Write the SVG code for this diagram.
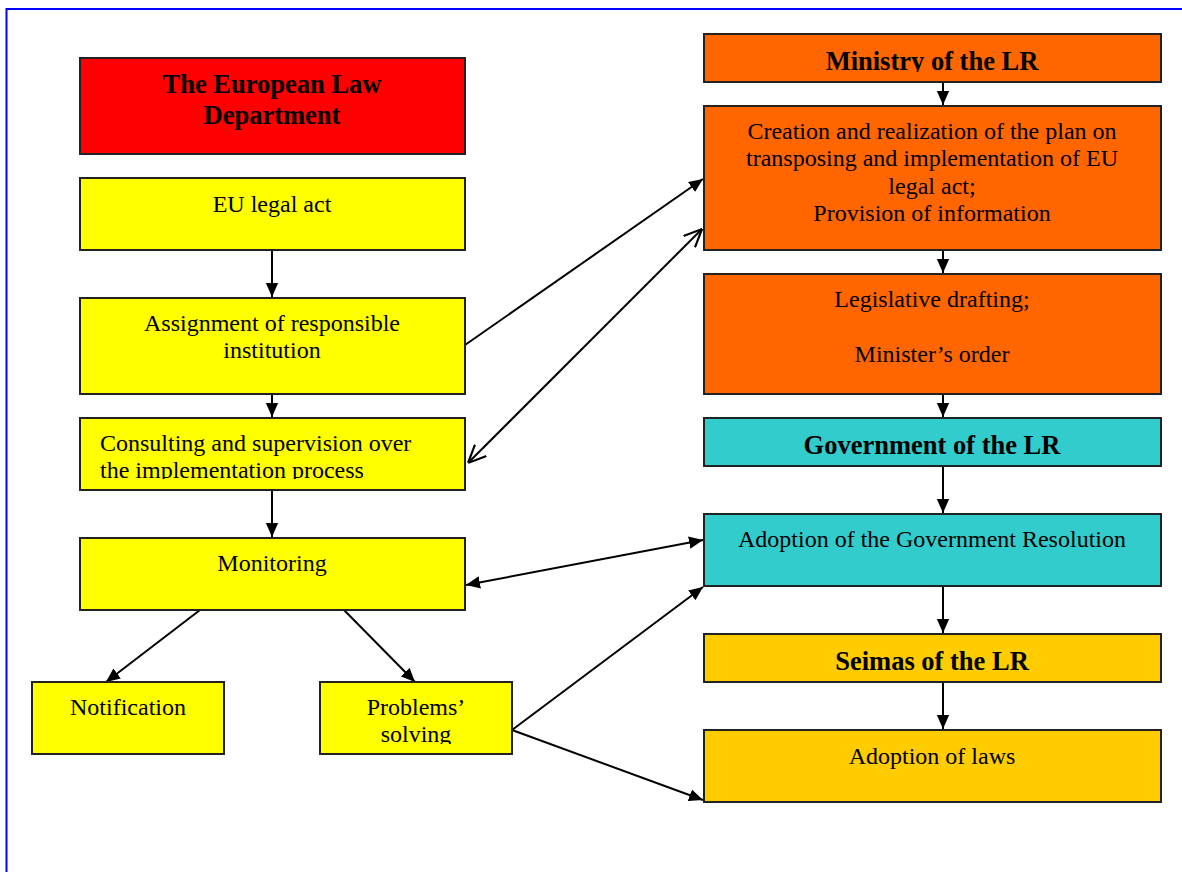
<svg xmlns="http://www.w3.org/2000/svg" width="1182" height="872" viewBox="0 0 1182 872">
<style>
.box{stroke:#222;stroke-width:2}
.y{fill:#ffff00}.r{fill:#ff0000}.o{fill:#ff6600}.c{fill:#33cccc}.g{fill:#ffcc00}
text{font-family:"Liberation Serif","Times New Roman",serif;fill:#000}
.t{font-size:24px;text-anchor:middle}
.b{font-size:26.5px;font-weight:bold;text-anchor:middle}
.l{font-size:24px}
.e{stroke:#000;stroke-width:2;fill:none}
</style>
<defs>
<marker id="af" viewBox="0 0 10 10" refX="10" refY="5" markerWidth="14" markerHeight="14" markerUnits="userSpaceOnUse" orient="auto-start-reverse"><path d="M0,0.6 L10,5 L0,9.4 z" fill="#000"/></marker>
<marker id="ao" viewBox="0 0 10 10" refX="10" refY="5" markerWidth="18" markerHeight="18" markerUnits="userSpaceOnUse" orient="auto-start-reverse"><path d="M0,0.5 L10,5 L0,9.5" fill="none" stroke="#000" stroke-width="1.2"/></marker>
<clipPath id="cCons"><rect x="80" y="418" width="385" height="61"/></clipPath>
<clipPath id="cProb"><rect x="320" y="682" width="192" height="62"/></clipPath>
<clipPath id="cMin"><rect x="704" y="34" width="457" height="38"/></clipPath>
</defs>
<rect x="6.5" y="9" width="1200" height="900" fill="#fff" stroke="#0000ff" stroke-width="2"/>

<g id="connectors">
<line class="e" x1="272" y1="250" x2="272" y2="297" marker-end="url(#af)"/>
<line class="e" x1="272" y1="394" x2="272" y2="417" marker-end="url(#af)"/>
<line class="e" x1="272" y1="490" x2="272" y2="537" marker-end="url(#af)"/>
<line class="e" x1="200" y1="610" x2="106" y2="682" marker-end="url(#af)"/>
<line class="e" x1="344" y1="610" x2="415" y2="682" marker-end="url(#af)"/>
<line class="e" x1="465" y1="345" x2="703" y2="179" marker-end="url(#af)"/>
<line class="e" x1="468" y1="463" x2="702" y2="229" marker-start="url(#ao)" marker-end="url(#ao)"/>
<line class="e" x1="466" y1="585" x2="703" y2="540" marker-start="url(#af)" marker-end="url(#af)"/>
<line class="e" x1="512" y1="730" x2="703" y2="587" marker-end="url(#af)"/>
<line class="e" x1="512" y1="730" x2="703" y2="800" marker-end="url(#af)"/>
<line class="e" x1="943" y1="82" x2="943" y2="105" marker-end="url(#af)"/>
<line class="e" x1="943" y1="250" x2="943" y2="273" marker-end="url(#af)"/>
<line class="e" x1="943" y1="394" x2="943" y2="417" marker-end="url(#af)"/>
<line class="e" x1="943" y1="466" x2="943" y2="513" marker-end="url(#af)"/>
<line class="e" x1="943" y1="586" x2="943" y2="633" marker-end="url(#af)"/>
<line class="e" x1="943" y1="682" x2="943" y2="729" marker-end="url(#af)"/>
</g>

<g id="eld"><rect class="box r" x="80" y="58" width="385" height="96"/>
<text class="b" x="272" y="93">The European Law</text><text class="b" x="272" y="124">Department</text></g>
<g id="eu-act"><rect class="box y" x="80" y="178" width="385" height="72"/>
<text class="t" x="272" y="212">EU legal act</text></g>
<g id="assignment"><rect class="box y" x="80" y="298" width="385" height="96"/>
<text class="t" x="272" y="331">Assignment of responsible</text><text class="t" x="272" y="358">institution</text></g>
<g id="consulting"><rect class="box y" x="80" y="418" width="385" height="72"/>
<g clip-path="url(#cCons)"><text class="l" x="100" y="451">Consulting and supervision over</text><text class="l" x="100" y="478">the implementation process</text></g></g>
<g id="monitoring"><rect class="box y" x="80" y="538" width="385" height="72"/>
<text class="t" x="272" y="571">Monitoring</text></g>
<g id="notification"><rect class="box y" x="32" y="682" width="192" height="72"/>
<text class="t" x="128" y="715">Notification</text></g>
<g id="problems"><rect class="box y" x="320" y="682" width="192" height="72"/>
<g clip-path="url(#cProb)"><text class="t" x="416" y="715">Problems’</text><text class="t" x="416" y="742">solving</text></g></g>

<g id="ministry"><rect class="box o" x="704" y="34" width="457" height="48"/>
<g clip-path="url(#cMin)"><text class="b" x="932" y="70">Ministry of the LR</text></g></g>
<g id="creation"><rect class="box o" x="704" y="106" width="457" height="144"/>
<text class="t" x="932" y="139">Creation and realization of the plan on</text>
<text class="t" x="932" y="166">transposing and implementation of EU</text>
<text class="t" x="932" y="194">legal act;</text>
<text class="t" x="932" y="221">Provision of information</text></g>
<g id="drafting"><rect class="box o" x="704" y="274" width="457" height="120"/>
<text class="t" x="932" y="307">Legislative drafting;</text><text class="t" x="932" y="362">Minister’s order</text></g>
<g id="government"><rect class="box c" x="704" y="418" width="457" height="48"/>
<text class="b" x="932" y="454">Government of the LR</text></g>
<g id="gov-resolution"><rect class="box c" x="704" y="514" width="457" height="72"/>
<text class="t" x="932" y="547">Adoption of the Government Resolution</text></g>
<g id="seimas"><rect class="box g" x="704" y="634" width="457" height="48"/>
<text class="b" x="932" y="670">Seimas of the LR</text></g>
<g id="laws"><rect class="box g" x="704" y="730" width="457" height="72"/>
<text class="t" x="932" y="764">Adoption of laws</text></g>
</svg>
